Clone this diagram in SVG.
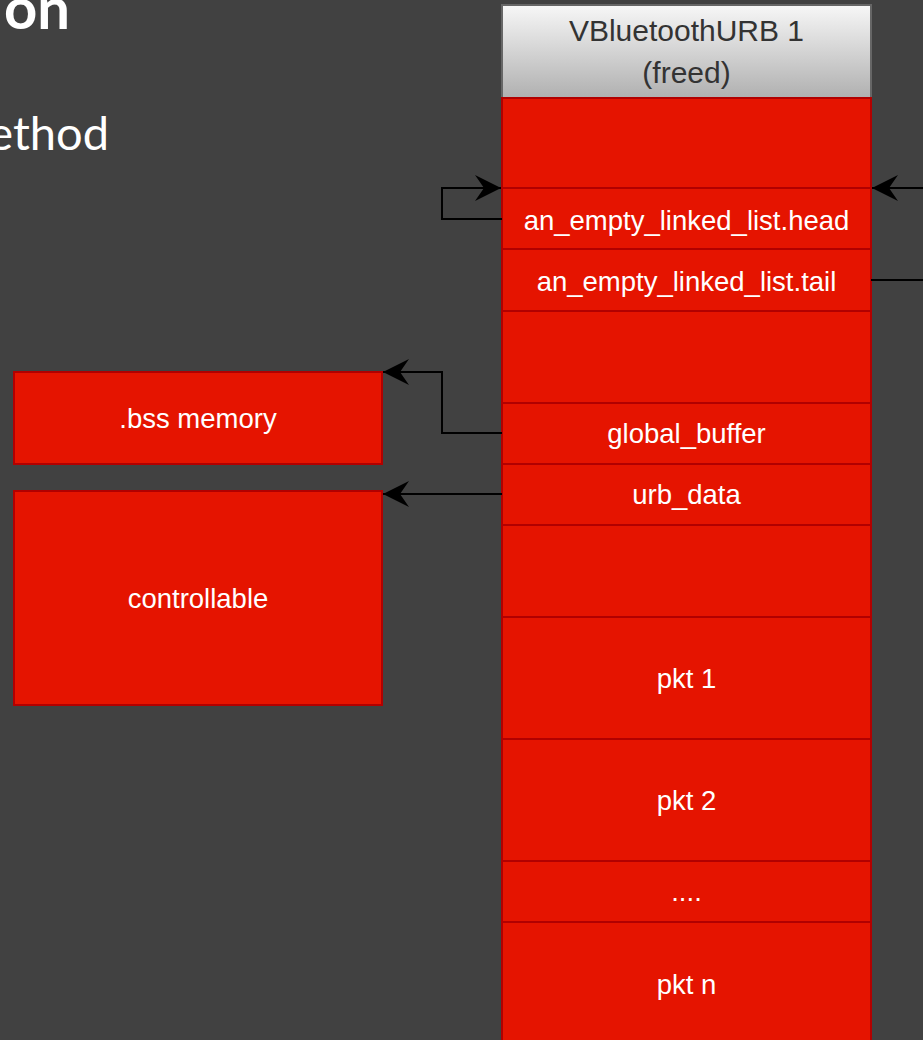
<svg xmlns="http://www.w3.org/2000/svg" width="923" height="1040" viewBox="0 0 923 1040">
  <style>
    .cell { fill: #e51400; stroke: #b20000; stroke-width: 2; }
    .lbl { font-family: "Liberation Sans", Arial, sans-serif; font-size: 27.5px; fill: #ffffff; text-anchor: middle; }
    .hdr { font-family: "Liberation Sans", Arial, sans-serif; font-size: 30px; fill: #333333; text-anchor: middle; }
    .edge { fill: none; stroke: #000000; stroke-width: 2; }
    .slide { font-family: Lato, "Open Sans", sans-serif; fill: #ffffff; text-anchor: end; }
  </style>
  <defs>
    <linearGradient id="hdrGrad" x1="0" y1="0" x2="0" y2="1">
      <stop offset="0" stop-color="#f7f7f7"/>
      <stop offset="1" stop-color="#b0b0b0"/>
    </linearGradient>
    <marker id="arrow" viewBox="-28 -14 30 28" refX="0" refY="0" markerWidth="30" markerHeight="28" markerUnits="userSpaceOnUse" orient="auto">
      <path d="M0,0 L-26,-13 L-17,0 L-26,13 Z" fill="#000000"/>
    </marker>
  </defs>

  <!-- slide background -->
  <rect x="0" y="0" width="923" height="1040" fill="#414141"/>

  <!-- slide title / bullet fragments -->
  <text class="slide" x="70" y="29" font-size="58" font-weight="bold">on</text>
  <text class="slide" x="109" y="150" font-size="47">ethod</text>

  <!-- freed URB object -->
  <g id="urb-header">
    <rect x="502" y="5" width="369" height="93" fill="url(#hdrGrad)" stroke="#666666" stroke-width="2"/>
    <text class="hdr" x="686.5" y="41">VBluetoothURB 1</text>
    <text class="hdr" x="686.5" y="83">(freed)</text>
  </g>
  <g id="urb-pad0">
    <rect class="cell" x="502" y="98" width="369" height="90"/>
  </g>
  <g id="urb-head">
    <rect class="cell" x="502" y="188" width="369" height="61"/>
    <text class="lbl" x="686.5" y="229.5">an_empty_linked_list.head</text>
  </g>
  <g id="urb-tail">
    <rect class="cell" x="502" y="249" width="369" height="62"/>
    <text class="lbl" x="686.5" y="291">an_empty_linked_list.tail</text>
  </g>
  <g id="urb-pad1">
    <rect class="cell" x="502" y="311" width="369" height="92"/>
  </g>
  <g id="urb-global-buffer">
    <rect class="cell" x="502" y="403" width="369" height="61"/>
    <text class="lbl" x="686.5" y="443">global_buffer</text>
  </g>
  <g id="urb-data">
    <rect class="cell" x="502" y="464" width="369" height="61"/>
    <text class="lbl" x="686.5" y="504">urb_data</text>
  </g>
  <g id="urb-pad2">
    <rect class="cell" x="502" y="525" width="369" height="92"/>
  </g>
  <g id="pkt-1">
    <rect class="cell" x="502" y="617" width="369" height="122"/>
    <text class="lbl" x="686.5" y="688">pkt 1</text>
  </g>
  <g id="pkt-2">
    <rect class="cell" x="502" y="739" width="369" height="122"/>
    <text class="lbl" x="686.5" y="810">pkt 2</text>
  </g>
  <g id="pkt-more">
    <rect class="cell" x="502" y="861" width="369" height="61"/>
    <text class="lbl" x="686.5" y="901">....</text>
  </g>
  <g id="pkt-n">
    <rect class="cell" x="502" y="922" width="369" height="140"/>
    <text class="lbl" x="686.5" y="994">pkt n</text>
  </g>

  <!-- targets on the left -->
  <g id="bss-memory">
    <rect class="cell" x="14" y="372" width="368" height="92"/>
    <text class="lbl" x="198" y="428">.bss memory</text>
  </g>
  <g id="controllable">
    <rect class="cell" x="14" y="491" width="368" height="214"/>
    <text class="lbl" x="198" y="608">controllable</text>
  </g>

  <!-- pointers -->
  <g id="connectors">
    <polyline class="edge" points="502,219 442,219 442,188 501,188" marker-end="url(#arrow)"/>
    <polyline class="edge" points="925,188 872,188" marker-end="url(#arrow)"/>
    <polyline class="edge" points="871,280 925,280"/>
    <polyline class="edge" points="502,433 442,433 442,372 383,372" marker-end="url(#arrow)"/>
    <polyline class="edge" points="502,494 383,494" marker-end="url(#arrow)"/>
  </g>
</svg>
